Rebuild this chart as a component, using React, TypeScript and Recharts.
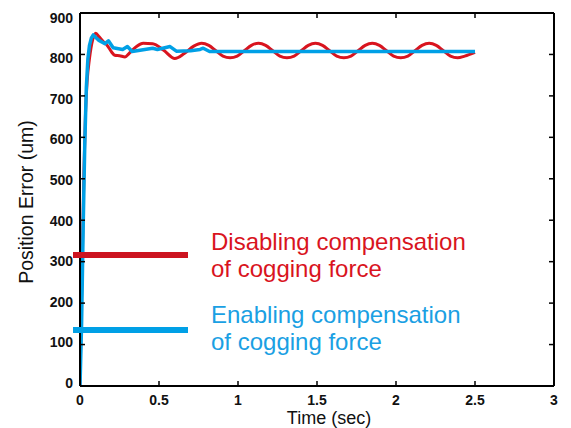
import React from 'react';
import { LineChart, Line, XAxis, YAxis } from 'recharts';

const TIME_TICKS = [0, 0.5, 1, 1.5, 2, 2.5, 3];
const ERROR_TICKS = [0, 100, 200, 300, 400, 500, 600, 700, 800, 900];

// Disabling compensation of cogging force (red)
const redTime = [
  0, 0.005, 0.015, 0.025, 0.035, 0.045, 0.06, 0.08, 0.1, 0.12, 0.15, 0.17, 0.2, 0.22, 0.25, 0.285, 0.31, 0.33,
  0.36, 0.4, 0.46, 0.53, 0.6, 0.66, 0.72, 0.77, 0.815, 0.86, 0.905, 0.95, 0.995, 1.04, 1.085, 1.13, 1.175,
  1.22, 1.265, 1.31, 1.355, 1.4, 1.445, 1.49, 1.535, 1.58, 1.625, 1.67, 1.715, 1.76, 1.805, 1.85, 1.895, 1.94,
  1.985, 2.03, 2.075, 2.12, 2.165, 2.21, 2.255, 2.3, 2.345, 2.39, 2.435, 2.5,
];
const redError = [
  0, 120, 320, 520, 660, 735, 790, 835, 851, 843, 830, 823, 806, 798, 797, 794, 802, 810,
  820, 827, 826, 810, 790, 802, 820, 827, 822, 809, 796, 792, 796, 809, 822, 827, 822,
  809, 796, 792, 796, 809, 822, 827, 822, 809, 796, 792, 796, 809, 822, 827, 822, 809,
  796, 792, 796, 809, 822, 827, 822, 809, 796, 792, 796, 805,
];

// Enabling compensation of cogging force (blue)
const blueTime = [
  0, 0.01, 0.02, 0.03, 0.04, 0.05, 0.06, 0.072, 0.084, 0.1, 0.12, 0.158, 0.18, 0.21, 0.27, 0.3, 0.33, 0.38,
  0.46, 0.49, 0.57, 0.61, 0.7, 0.76, 0.78, 0.82, 1.0, 1.5, 2.0, 2.5,
];
const blueError = [
  0, 150, 380, 580, 720, 790, 822, 840, 847, 841, 834, 826, 833, 816, 812, 819, 807, 810,
  815, 812, 819, 808, 809, 812, 815, 807, 807, 807, 807, 807,
];

const redData = redTime.map((t, i) => ({ t, v: redError[i] }));
const blueData = blueTime.map((t, i) => ({ t, v: blueError[i] }));

const RED = '#d9141e';
const BLUE = '#00a0e6';
const FONT = '"Liberation Sans", Arial, Helvetica, sans-serif';

const BottomTick = (props: any) => {
  const { x, y, payload } = props;
  return (
    <g>
      <line x1={x} x2={x} y1={y} y2={y - 5} stroke="#000" strokeWidth={1.5} />
      <text x={x} y={y + 18.5} textAnchor="middle" fontFamily={FONT} fontWeight="bold" fontSize={14} fill="#111">
        {String(payload.value)}
      </text>
    </g>
  );
};

const TopTick = (props: any) => {
  const { x, y } = props;
  return <line x1={x} x2={x} y1={y} y2={y + 5} stroke="#000" strokeWidth={1.5} />;
};

const LeftTick = (props: any) => {
  const { x, y, payload } = props;
  const shift = -3 + (7.5 * Number(payload.value)) / 900;
  return (
    <g>
      <line x1={x} x2={x + 5} y1={y} y2={y} stroke="#000" strokeWidth={1.5} />
      <text x={x - 7} y={y + 5 + shift} textAnchor="end" fontFamily={FONT} fontWeight="bold" fontSize={14} fill="#111">
        {String(payload.value)}
      </text>
    </g>
  );
};

const RightTick = (props: any) => {
  const { x, y } = props;
  return <line x1={x} x2={x - 5} y1={y} y2={y} stroke="#000" strokeWidth={1.5} />;
};

export default function App() {
  return (
    <div style={{ position: 'absolute', left: 0, top: 0, width: 571, height: 428, background: '#fff' }}>
      <LineChart width={571} height={428} margin={{ top: 0, right: 0, bottom: 0, left: 0 }}>
        <XAxis
          xAxisId={0}
          dataKey="t"
          type="number"
          domain={[0, 3]}
          ticks={TIME_TICKS}
          allowDataOverflow
          height={42}
          tickSize={0}
          tickMargin={0}
          tickLine={false}
          axisLine={{ stroke: '#000', strokeWidth: 2 }}
          tick={<BottomTick />}
          interval={0}
        />
        <XAxis
          xAxisId="top"
          orientation="top"
          dataKey="t"
          type="number"
          domain={[0, 3]}
          ticks={TIME_TICKS}
          allowDataOverflow
          height={13}
          tickSize={0}
          tickMargin={0}
          tickLine={false}
          axisLine={{ stroke: '#000', strokeWidth: 2 }}
          tick={<TopTick />}
          interval={0}
        />
        <YAxis
          yAxisId={0}
          type="number"
          domain={[0, 900]}
          ticks={ERROR_TICKS}
          allowDataOverflow
          width={80}
          tickSize={0}
          tickMargin={0}
          tickLine={false}
          axisLine={{ stroke: '#000', strokeWidth: 2 }}
          tick={<LeftTick />}
          interval={0}
        />
        <YAxis
          yAxisId="right"
          orientation="right"
          type="number"
          domain={[0, 900]}
          ticks={ERROR_TICKS}
          allowDataOverflow
          width={17}
          tickSize={0}
          tickMargin={0}
          tickLine={false}
          axisLine={{ stroke: '#000', strokeWidth: 2 }}
          tick={<RightTick />}
          interval={0}
        />
        <Line
          data={redData}
          dataKey="v"
          type="monotone"
          stroke={RED}
          strokeWidth={3}
          dot={false}
          isAnimationActive={false}
        />
        <Line
          data={blueData}
          dataKey="v"
          type="linear"
          stroke={BLUE}
          strokeWidth={3.5}
          strokeLinejoin="round"
          dot={false}
          isAnimationActive={false}
        />
      </LineChart>
      <svg
        width={571}
        height={428}
        style={{ position: 'absolute', left: 0, top: 0, pointerEvents: 'none' }}
      >
        <line x1={73} x2={188} y1={255} y2={255} stroke="#cc1420" strokeWidth={6} />
        <line x1={73} x2={188} y1={330} y2={330} stroke={BLUE} strokeWidth={6} />
        <text x={211} y={250} fontFamily={FONT} fontSize={24} fill={RED}>Disabling compensation</text>
        <text x={211} y={277} fontFamily={FONT} fontSize={24} fill={RED}>of cogging force</text>
        <text x={211} y={323} fontFamily={FONT} fontSize={24} fill="#1aa0e3">Enabling compensation</text>
        <text x={211} y={350} fontFamily={FONT} fontSize={24} fill="#1aa0e3">of cogging force</text>
        <text
          x={33}
          y={202}
          transform="rotate(-90 33 202)"
          textAnchor="middle"
          fontFamily={FONT}
          fontSize={19.5}
          fill="#111"
        >
          Position Error (um)
        </text>
        <text x={329} y={424} textAnchor="middle" fontFamily={FONT} fontSize={18} fill="#111">
          Time (sec)
        </text>
      </svg>
    </div>
  );
}
